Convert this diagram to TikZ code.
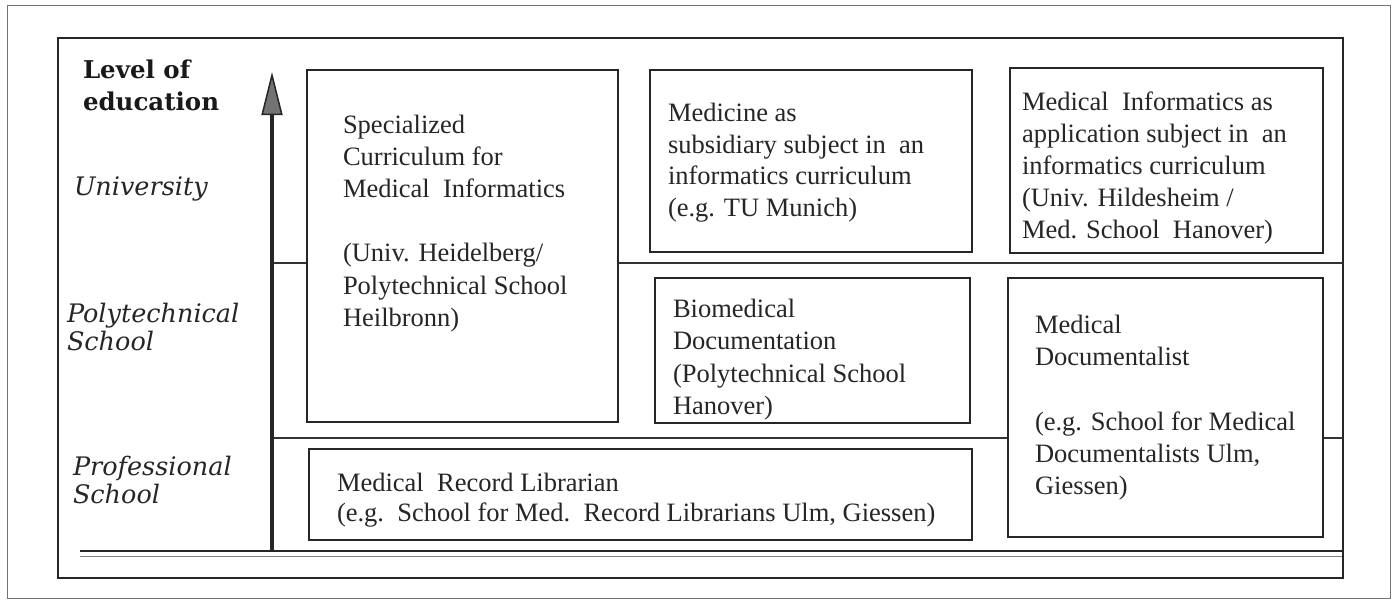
\documentclass[tikz,border=0pt]{standalone}
\usepackage{fontspec}
\setmainfont{Liberation Serif}
\newfontfamily\lblfont{DejaVu Serif}
\usetikzlibrary{arrows.meta}
\tikzset{
  frameline/.style={draw=black!85, line width=1.8pt, inner sep=0pt, outer sep=0pt, anchor=north west},
  outerline/.style={draw=black!55, line width=1pt, inner sep=0pt, outer sep=0pt, anchor=north west},
  edbox/.style={draw=black!85, line width=1.8pt, fill=white, inner sep=0pt, outer sep=0pt, anchor=north west},
  sepline/.style={draw=black!80, line width=1.2pt},
  boxtxt/.style={anchor=north west, inner sep=0pt, outer sep=0pt, align=left, text=black!85},
  lvltxt/.style={anchor=north west, inner sep=0pt, outer sep=0pt, align=left, text=black!85,
                 font=\lblfont\itshape\fontsize{25.5}{28}\selectfont},
}
\begin{document}
\begin{tikzpicture}[x=1pt,y=-1pt]
\useasboundingbox (0,0) rectangle (1400,603);
% frames
\node[outerline, minimum width=1383pt, minimum height=593pt] (outer) at (7,5) {};
\node[frameline, minimum width=1285pt, minimum height=540pt] (frame) at (58,38) {};
% separators
\coordinate (s1a) at (272,263); \coordinate (s1b) at (1343,263);
\coordinate (s2a) at (272,438); \coordinate (s2b) at (1343,438);
\draw[sepline] (s1a) -- (s1b);
\draw[sepline] (s2a) -- (s2b);
% base double line
\coordinate (ba) at (80,551); \coordinate (bb) at (1342,551);
\coordinate (ca) at (80,556.5); \coordinate (cb) at (1342,556.5);
\draw[draw=black!85, line width=2.6pt] (ba) -- (bb);
\draw[draw=black!50, line width=0.9pt] (ca) -- (cb);
% arrow
\coordinate (abase) at (272,550); \coordinate (atip) at (272,72);
\draw[draw=black!85, line width=3.5pt,
  -{Triangle[length=43pt, width=21pt, fill=black!55, line width=1.5pt]}] (abase) -- (atip);
% boxes
\node[edbox, minimum width=311pt, minimum height=352pt] (b1) at (307,70) {};
\node[edbox, minimum width=322pt, minimum height=182pt] (b2) at (650,70) {};
\node[edbox, minimum width=313pt, minimum height=185pt] (b3) at (1010,68) {};
\node[edbox, minimum width=315pt, minimum height=145pt] (b4) at (655,278) {};
\node[edbox, minimum width=315pt, minimum height=259pt] (b5) at (1008,278) {};
\node[edbox, minimum width=663pt, minimum height=91pt] (b6) at (309,449) {};
% box texts
\node[boxtxt, font=\fontsize{26.5}{32.3}\selectfont] (t1) at (343,110.4)
  {\strut Specialized\\ Curriculum for\\ Medical\ \ Informatics\\[32pt] (Univ. Heidelberg/\\ Polytechnical School\\ Heilbronn)};
\node[boxtxt, font=\fontsize{26.5}{31.5}\selectfont] (t2) at (668,99.9)
  {\strut Medicine as\\ subsidiary subject in\ \ an\\ informatics curriculum\\ (e.g. TU Munich)};
\node[boxtxt, font=\fontsize{26.5}{32}\selectfont] (t3) at (1022,87.6)
  {\strut Medical\ \ Informatics as\\ application subject in\ \ an\\ informatics curriculum\\ (Univ. Hildesheim /\\ Med. School\ \ Hanover)};
\node[boxtxt, font=\fontsize{26.5}{32.5}\selectfont] (t4) at (673,294.3)
  {\strut Biomedical\\ Documentation\\ (Polytechnical School\\ Hanover)};
\node[boxtxt, font=\fontsize{26.5}{32}\selectfont] (t5) at (1035,310.6)
  {\strut Medical\\ Documentalist\\[33pt] (e.g. School for Medical\\ Documentalists Ulm,\\ Giessen)};
\node[boxtxt, font=\fontsize{26.5}{30}\selectfont] (t6) at (337,470)
  {\strut Medical\ \ Record Librarian\\ (e.g.\ \ School for Med.\ \ Record Librarians Ulm, Giessen)};
% level labels
\node[anchor=north west, inner sep=0pt, outer sep=0pt, align=left, text=black!90,
      font=\lblfont\bfseries\fontsize{24.5}{32}\selectfont] (lev) at (83,55.6)
  {\strut Level of\\ education};
\node[lvltxt] (uni) at (74,175.4) {\strut University};
\node[lvltxt] (poly) at (67,302.4) {\strut Polytechnical\\ School};
\node[lvltxt] (prof) at (73,455.4) {\strut Professional\\ School};
\end{tikzpicture}
\end{document}
